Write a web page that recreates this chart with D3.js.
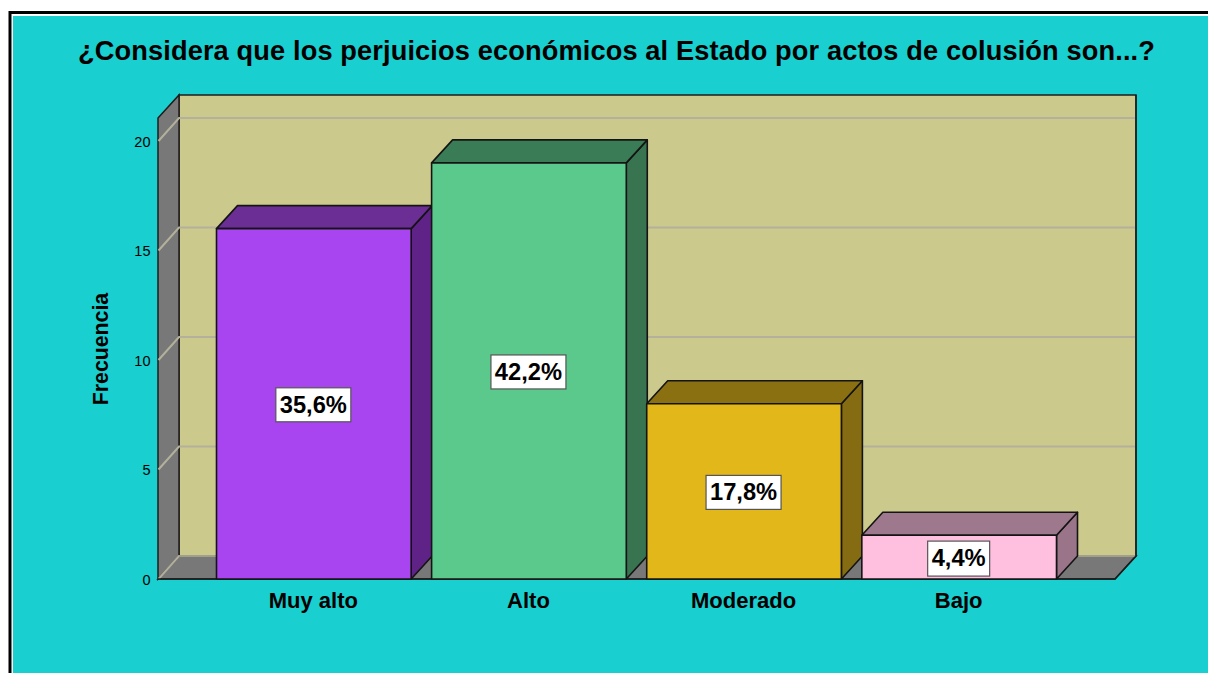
<!DOCTYPE html>
<html><head><meta charset="utf-8">
<script src="https://cdn.jsdelivr.net/npm/d3@7"></script>
<style>html,body{margin:0;padding:0;background:#fff;overflow:hidden}svg{display:block}text{font-family:"Liberation Sans",Arial,sans-serif;fill:#000}</style>
</head><body><svg id="c" width="1208" height="673"></svg>
<script>
const categories=["Muy alto","Alto","Moderado","Bajo"];
const frequencies=[16,19,8,2];
const percentLabels=["35,6%","42,2%","17,8%","4,4%"];
const frontColors=["#a845f0","#5cc98c","#e2b71a","#ffc0e0"];
const topColors=["#6a2e94","#3a7c56","#8a7010","#9e788c"];
const sideColors=["#5f2287","#37744f","#856c12","#9a7488"];
const yTicks=[0,5,10,15,20];
const titleText="¿Considera que los perjuicios económicos al Estado por actos de colusión son...?";
const yTitle="Frecuencia";

const svg=d3.select("#c");
const dx=21,dy=-23;
const y=d3.scaleLinear().domain([0,21.05]).range([579,118]);
const x=d3.scaleBand().domain(categories).range([216.5,1056.5]).paddingInner(0.095).paddingOuter(0);
const L=158,R=1115;
const poly=(pts,fill,stroke,sw)=>svg.append("path").attr("d",d3.line()(pts)+"Z").attr("fill",fill).attr("stroke",stroke||"none").attr("stroke-width",sw||0);

// background and frame
svg.append("rect").attr("x",10).attr("y",13).attr("width",1198).attr("height",660).attr("fill","#fff");
svg.append("rect").attr("x",13).attr("y",16).attr("width",1195).attr("height",657).attr("fill","#19cfcf");
svg.append("path").attr("d","M10 673V12.5H1208").attr("fill","none").attr("stroke","#000").attr("stroke-width",3);

svg.append("text").attr("x",616.5).attr("y",60).attr("text-anchor","middle").attr("font-size",27.2).attr("letter-spacing",0.13).attr("font-weight","bold").text(titleText);

// walls
poly([[L+dx,y(0)+dy],[R+dx,y(0)+dy],[R+dx,y.range()[1]+dy],[L+dx,y.range()[1]+dy]],"#ccc98d","#1c1c1c",1.5);
poly([[L,y(0)],[L+dx,y(0)+dy],[R+dx,y(0)+dy],[R,y(0)]],"#787878","#1c1c1c",1.5);
poly([[L,y(0)],[L,y.range()[1]],[L+dx,y.range()[1]+dy],[L+dx,y(0)+dy]],"#787878","#1c1c1c",1.5);

// gridlines
const grid=svg.append("g").attr("fill","none").attr("stroke","#b3b09c").attr("stroke-width",2);
grid.selectAll("path").data(yTicks).join("path")
  .attr("d",v=>`M${L+0.5} ${y(v)}L${L+dx} ${y(v)+dy}H${R+dx-1}`);
svg.append("path").attr("d",`M${L+dx} ${y(0)+dy}H${R+dx}`).attr("stroke","#9a9a84").attr("stroke-width",1.5);
svg.append("path").attr("d",`M${R+dx} ${y.range()[1]+dy}V${y(0)+dy}`).attr("stroke","#1c1c1c").attr("stroke-width",1.5);
svg.append("path").attr("d",`M${L} ${y(0)}H${R}L${R+dx} ${y(0)+dy}`).attr("fill","none").attr("stroke","#1c1c1c").attr("stroke-width",1.5);

// y tick labels
svg.selectAll(".yt").data(yTicks).join("text").attr("class","yt")
  .attr("x",150.5).attr("y",v=>y(v)+6).attr("text-anchor","end").attr("font-size",14.5).text(d=>d);
svg.append("text").attr("transform","translate(108,349) rotate(-90)").attr("text-anchor","middle").attr("font-size",21.3).attr("font-weight","bold").text(yTitle);

// bars
const bars=svg.selectAll(".bar").data(categories).join("g").attr("class","bar");
bars.each(function(c,i){
  const g=d3.select(this),a=x(c),b=a+x.bandwidth(),t=y(frequencies[i]),z=y(0);
  const p=(pts,f)=>g.append("path").attr("d",d3.line()(pts)+"Z").attr("fill",f).attr("stroke","#141414").attr("stroke-width",1.6).attr("stroke-linejoin","round");
  p([[b,z],[b+dx,z+dy],[b+dx,t+dy],[b,t]],sideColors[i]);
  p([[a,t],[a+dx,t+dy],[b+dx,t+dy],[b,t]],topColors[i]);
  p([[a,z],[b,z],[b,t],[a,t]],frontColors[i]);
});

// percent labels
const boxW=[75,75,75,62];
bars.each(function(c,i){
  const g=d3.select(this),cx=x(c)+x.bandwidth()/2-0.5,cy=(y(frequencies[i])+y(0))/2+1;
  const boxH=i==3?35:34;
  g.append("rect").attr("x",cx-boxW[i]/2).attr("y",cy-17).attr("width",boxW[i]).attr("height",boxH).attr("fill","#fff").attr("stroke","#555").attr("stroke-width",1.2);
  g.append("text").attr("x",cx).attr("y",cy+8).attr("text-anchor","middle").attr("font-size",23.7).attr("font-weight","bold").text(percentLabels[i]);
  g.append("text").attr("x",x(c)+x.bandwidth()/2-0.5).attr("y",607.5).attr("text-anchor","middle").attr("font-size",22).attr("font-weight","bold").text(c);
});
</script></body></html>
